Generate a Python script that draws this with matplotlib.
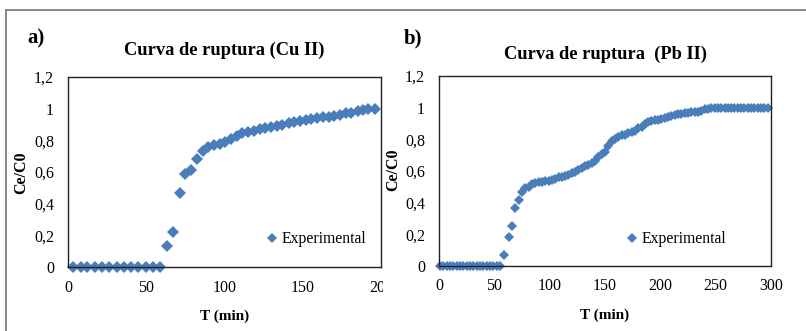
import matplotlib
matplotlib.use('Agg')
import matplotlib.pyplot as plt
from matplotlib.lines import Line2D
from matplotlib.transforms import Bbox, TransformedBbox

# Cu(II) breakthrough curve
cu_t = [3, 8, 12, 17, 22, 26, 31, 36, 40, 45, 50, 54, 59,
        63, 67, 71.5, 75, 78.5, 82.5, 86, 89.5, 93, 97, 100.5, 104, 108,
        111.5, 115, 119, 122.5, 126, 130, 133.5, 137, 141, 144.5, 148, 152,
        155.5, 159, 163, 166.5, 170, 174, 177.5, 181, 185, 188.5, 192, 196]
cu_c = [0, 0, 0, 0, 0, 0, 0, 0, 0, 0, 0, 0, 0,
        0.135, 0.22, 0.465, 0.59, 0.615, 0.68, 0.73, 0.76, 0.77, 0.775, 0.79, 0.81, 0.83,
        0.845, 0.85, 0.86, 0.87, 0.88, 0.885, 0.89, 0.90, 0.91, 0.915, 0.92, 0.93,
        0.935, 0.94, 0.945, 0.95, 0.955, 0.96, 0.97, 0.975, 0.985, 0.99, 0.995, 1.0]

# Pb(II) breakthrough curve
pb_t = [1, 4, 7, 10, 13, 16, 19, 22, 25, 28, 31, 34, 37, 40, 43, 46, 49, 52, 55,
        59, 63, 66, 69, 72, 75, 78, 81, 84, 87, 90, 93, 96, 99, 102, 105, 108,
        111, 114, 117, 120, 123, 126, 129, 132, 135, 138, 141, 144, 147, 150, 153,
        156, 159, 162, 165, 168, 171, 174, 177, 180, 183, 186, 189, 192, 195, 198,
        201, 204, 207, 210, 213, 216, 219, 222, 225, 228, 231, 234, 237, 240, 243,
        246, 249, 252, 255, 258, 261, 264, 267, 270, 273, 276, 279, 282, 285, 288,
        291, 294, 297]
pb_c = [0, 0, 0, 0, 0, 0, 0, 0, 0, 0, 0, 0, 0, 0, 0, 0, 0, 0, 0,
        0.07, 0.185, 0.255, 0.365, 0.42, 0.47, 0.49, 0.50, 0.515, 0.525, 0.53, 0.53,
        0.535, 0.54, 0.545, 0.55, 0.56, 0.56, 0.57, 0.575, 0.585, 0.595, 0.605,
        0.62, 0.63, 0.64, 0.65, 0.665, 0.69, 0.71, 0.72, 0.76, 0.79, 0.80, 0.815,
        0.825, 0.83, 0.84, 0.845, 0.855, 0.87, 0.88, 0.895, 0.91, 0.915, 0.92,
        0.925, 0.93, 0.935, 0.94, 0.95, 0.955, 0.96, 0.96, 0.965, 0.965, 0.97,
        0.97, 0.975, 0.98, 0.99, 0.99, 0.995, 0.995, 1.0, 1.0, 1.0, 1.0, 1.0,
        1.0, 1.0, 1.0, 1.0, 1.0, 1.0, 1.0, 1.0, 1.0, 1.0, 1.0]

y_ticks = [0, 0.2, 0.4, 0.6, 0.8, 1.0, 1.2]
y_labels = ['0', '0,2', '0,4', '0,6', '0,8', '1', '1,2']
cu_xticks = [0, 50, 100, 150, 200]
pb_xticks = [0, 50, 100, 150, 200, 250, 300]

BLUE = '#4a7ebb'
plt.rcParams['font.family'] = ['Liberation Serif', 'DejaVu Serif']

W, H = 806, 331
fig = plt.figure(figsize=(W / 100, H / 100), dpi=100)


def box(l, t, r, b):
    return [l / W, 1 - b / H, (r - l) / W, (b - t) / H]


def style(ax, xmax, xticks):
    ax.set_xlim(0, xmax)
    ax.set_ylim(0, 1.2)
    ax.set_yticks(y_ticks)
    ax.set_yticklabels(y_labels)
    ax.set_xticks(xticks)
    ax.set_xticklabels([str(v) for v in xticks])
    ax.tick_params(axis='y', length=0, labelsize=11.5, pad=10)
    ax.tick_params(axis='x', length=0, labelsize=11.5, pad=9)
    for s in ax.spines.values():
        s.set_linewidth(1.0)
        s.set_color('#222222')


def add_legend(ax, x_px, y_px):
    h = Line2D([], [], marker='D', ls='', color=BLUE, markersize=5.5, markeredgewidth=0)
    ax.legend(handles=[h], labels=['Experimental'], loc='center left',
              bbox_to_anchor=(x_px / W, 1 - y_px / H), bbox_transform=fig.transFigure,
              frameon=False, fontsize=11.3, handlelength=0.6, handletextpad=0.3,
              borderpad=0, borderaxespad=0)


# panel a
ax1 = fig.add_axes(box(68, 77, 381, 267))
ax1.plot(cu_t, cu_c, 'D', color=BLUE, markersize=6.2, markeredgewidth=0, clip_on=False)
style(ax1, 200, cu_xticks)
ax1.set_title('Curva de ruptura (Cu II)', fontsize=13.3, fontweight='bold', pad=16)
ax1.set_xlabel('T (min)', fontsize=11, fontweight='bold', labelpad=10)
ax1.set_ylabel('Ce/C0', fontsize=11.5, fontweight='bold')
ax1.yaxis.set_label_coords(29 / W, 1 - 173 / H, transform=fig.transFigure)
add_legend(ax1, 267, 239)
# the reference crops the last x label ("200" shows as "20")
clip = TransformedBbox(Bbox([[0, 0], [383 / W, 1]]), fig.transFigure)
for lbl in ax1.get_xticklabels():
    lbl.set_clip_box(clip)
    lbl.set_clip_on(True)

# panel b
ax2 = fig.add_axes(box(439, 76, 771, 266))
ax2.plot(pb_t, pb_c, 'D', color=BLUE, markersize=5.6, markeredgewidth=0, clip_on=False)
style(ax2, 300, pb_xticks)
ax2.set_title('Curva de ruptura  (Pb II)', fontsize=13.3, fontweight='bold', pad=12)
ax2.set_xlabel('T (min)', fontsize=11, fontweight='bold', labelpad=10)
ax2.set_ylabel('Ce/C0', fontsize=11.5, fontweight='bold')
ax2.yaxis.set_label_coords(401 / W, 1 - 170 / H, transform=fig.transFigure)
add_legend(ax2, 627, 239)

fig.text(27 / W, 1 - 38 / H, 'a)', fontsize=15, fontweight='bold', va='center')
fig.text(404 / W, 1 - 38 / H, 'b)', fontsize=15, fontweight='bold', va='center')

# page frame around the figure
fig.add_artist(Line2D([6 / W, 6 / W], [0, 1 - 10 / H], transform=fig.transFigure,
                      color='#777777', lw=1.2))
fig.add_artist(Line2D([6 / W, 1], [1 - 10 / H, 1 - 10 / H], transform=fig.transFigure,
                      color='#777777', lw=1.2))

fig.savefig('out.png', dpi=100)
